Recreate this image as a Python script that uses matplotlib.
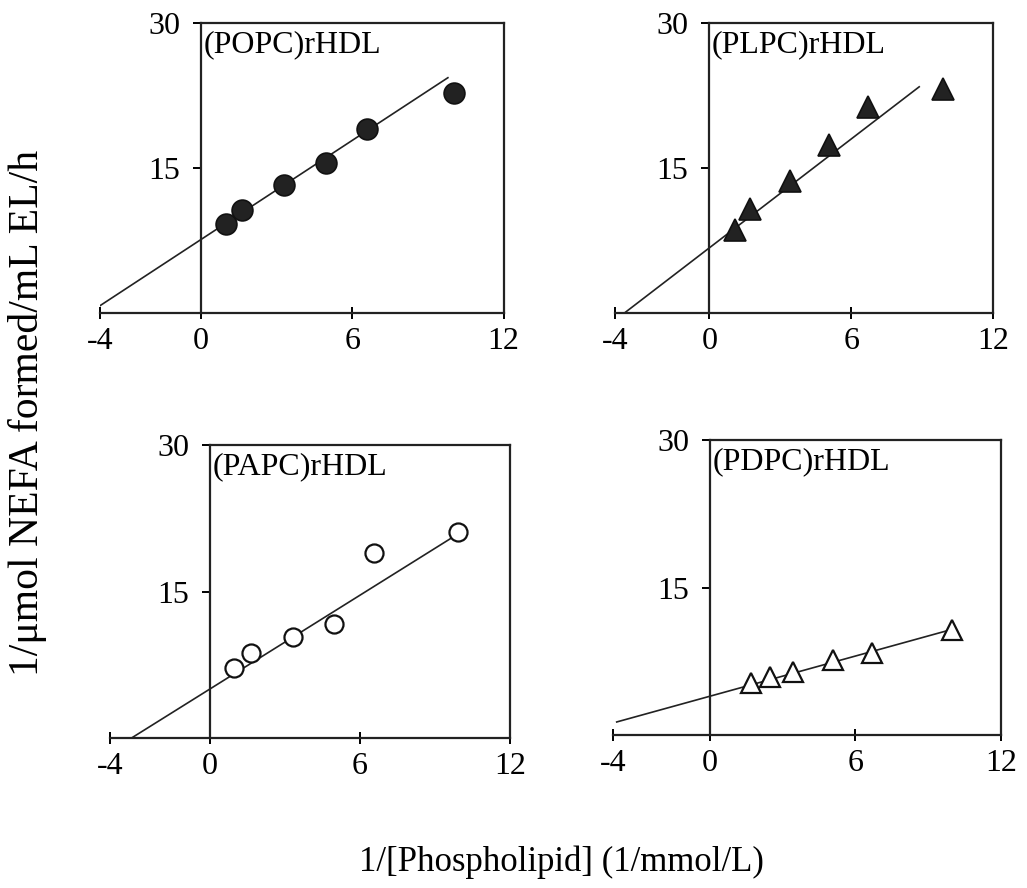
import numpy as np
import matplotlib
matplotlib.use("Agg")
from matplotlib import pyplot as plt

plt.rcParams['font.family'] = ['Liberation Serif', 'DejaVu Serif']

# reciprocal plots, one panel per rHDL
names = ["(POPC)rHDL", "(PLPC)rHDL", "(PAPC)rHDL", "(PDPC)rHDL"]
popc_x = [0.98, 1.62, 3.29, 4.96, 6.6, 10.04]
popc_y = [9.2, 10.7, 13.2, 15.5, 19.0, 22.75]
plpc_x = [1.1, 1.73, 3.4, 5.07, 6.7, 9.9]
plpc_y = [8.6, 10.8, 13.7, 17.4, 21.3, 23.2]
papc_x = [0.96, 1.63, 3.33, 4.97, 6.57, 9.93]
papc_y = [7.16, 8.77, 10.4, 11.67, 19.0, 21.15]
pdpc_x = [1.68, 2.48, 3.42, 5.07, 6.68, 9.99]
pdpc_y = [5.26, 5.87, 6.37, 7.63, 8.34, 10.65]
# fitted lines: start x, end x, slope, intercept
fit_x0 = [-4.0, -3.6, -3.15, -3.86]
fit_x1 = [9.79, 8.88, 9.93, 9.99]
fit_slope = [1.71, 1.875, 1.6, 0.68]
fit_icpt = [7.6, 6.75, 5.05, 3.95]

xs = [popc_x, plpc_x, papc_x, pdpc_x]
ys = [popc_y, plpc_y, papc_y, pdpc_y]
markers = ['o', '^', 'o', '^']
filled = [True, True, False, False]
msizes = [15, 16, 13, 14]

# axes rectangles in figure fractions
rects = [[0.0974, 0.6475, 0.393, 0.3266],
         [0.5988, 0.6475, 0.368, 0.3266],
         [0.1071, 0.1686, 0.3895, 0.330],
         [0.5972, 0.1723, 0.3772, 0.3322]]

fig = plt.figure(figsize=(10.27, 8.88), dpi=100)

for i in range(4):
    ax = fig.add_axes(rects[i])
    lx = np.array([fit_x0[i], fit_x1[i]])
    ax.plot(lx, fit_slope[i] * lx + fit_icpt[i], color='#222222', lw=1.2)
    if filled[i]:
        ax.plot(xs[i], ys[i], linestyle='none', marker=markers[i], ms=msizes[i],
                mfc='#222222', mec='#111111', mew=1.2)
    else:
        ax.plot(xs[i], ys[i], linestyle='none', marker=markers[i], ms=msizes[i],
                mfc='white', mec='#111111', mew=1.6)
    ax.set_xlim(-4, 12)
    ax.set_ylim(0, 30)
    ax.set_xticks([-4, 0, 6, 12])
    ax.set_xticklabels(['-4', '0', '6', '12'])
    ax.set_yticks([15, 30])
    ax.spines['left'].set_position(('data', 0))
    ax.spines['top'].set_bounds(0, 12)
    for s in ax.spines.values():
        s.set_linewidth(1.6)
        s.set_color('#222222')
    ax.tick_params(axis='x', direction='inout', length=8, width=1.4, labelsize=23, pad=6)
    ax.tick_params(axis='y', direction='out', length=6, width=1.4, labelsize=23, pad=9)
    ax.patch.set_alpha(0)
    ax.text(0.1, 29.3, names[i], fontsize=23, va='top', ha='left')

fig.text(0.027, 0.535, "1/\u03bcmol NEFA formed/mL EL/h", rotation=90, fontsize=30,
         ha='center', va='center')
fig.text(0.547, 0.029, "1/[Phospholipid] (1/mmol/L)", fontsize=25,
         ha='center', va='center')

plt.savefig("out.png", dpi=100)
